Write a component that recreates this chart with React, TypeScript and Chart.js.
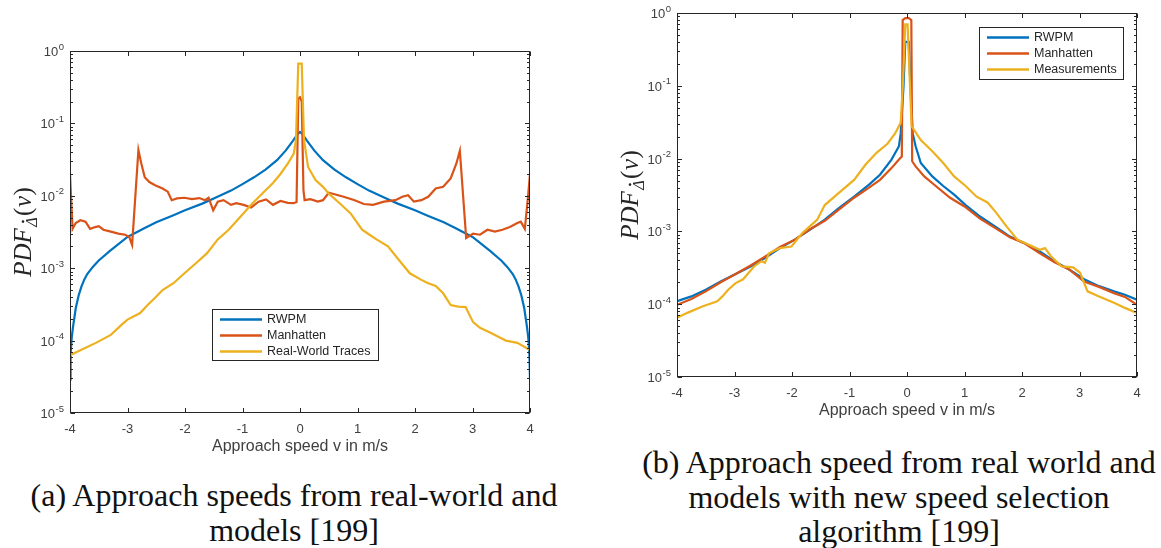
import React, { useEffect, useRef } from 'react';
import { Chart, registerables } from 'chart.js';
Chart.register(...registerables);

// ---------- shared ----------
const xTicks = [-4, -3, -2, -1, 0, 1, 2, 3, 4];
const yDecades = [0, -1, -2, -3, -4, -5];
const seriesColors = ['#0072BD', '#D95319', '#EDB120'];
const namesA = ['RWPM', 'Manhatten', 'Real-World Traces'];
const namesB = ['RWPM', 'Manhatten', 'Measurements'];
const xTitle = 'Approach speed v in m/s';
const captionA = ['(a) Approach speeds from real-world and', 'models [199]'];
const captionB = ['(b) Approach speed from real world and', 'models with new speed selection', 'algorithm [199]'];

// ---------- panel (a) ----------
const aRwpmX = [-4, -3.99, -3.97, -3.95, -3.9, -3.85, -3.8, -3.75, -3.7, -3.6, -3.5, -3.3, -3, -2.7, -2.5, -2.2, -2, -1.7, -1.5, -1.2, -1, -0.8, -0.6, -0.4, -0.25, -0.12, -0.05, 0, 0.05, 0.12, 0.25, 0.4, 0.6, 0.8, 1, 1.2, 1.5, 1.7, 2, 2.2, 2.5, 2.7, 3, 3.3, 3.5, 3.6, 3.7, 3.75, 3.8, 3.85, 3.9, 3.95, 3.97, 3.99, 4];
const aRwpmY = [2.9e-5, 6.5e-5, 1.1e-4, 1.5e-4, 2.8e-4, 4.2e-4, 5.6e-4, 7.0e-4, 8.3e-4, 1.05e-3, 1.28e-3, 1.75e-3, 2.7e-3, 3.6e-3, 4.3e-3, 5.4e-3, 6.3e-3, 7.8e-3, 9.2e-3, 1.18e-2, 1.45e-2, 1.8e-2, 2.3e-2, 3.1e-2, 4.2e-2, 5.8e-2, 7.0e-2, 7.6e-2, 7.0e-2, 5.8e-2, 4.2e-2, 3.1e-2, 2.3e-2, 1.8e-2, 1.45e-2, 1.18e-2, 9.2e-3, 7.8e-3, 6.3e-3, 5.4e-3, 4.3e-3, 3.6e-3, 2.7e-3, 1.75e-3, 1.28e-3, 1.05e-3, 8.3e-4, 7.0e-4, 5.6e-4, 4.2e-4, 2.8e-4, 1.5e-4, 1.1e-4, 6.5e-5, 2.9e-5];

const aManX = [-4, -3.955, -3.9, -3.82, -3.73, -3.65, -3.56, -3.5, -3.42, -3.29, -3.16, -3.04, -2.97, -2.92, -2.81, -2.76, -2.7, -2.62, -2.52, -2.39, -2.3, -2.23, -2.14, -2.01, -1.88, -1.75, -1.65, -1.59, -1.51, -1.43, -1.33, -1.2, -1.11, -0.98, -0.85, -0.72, -0.59, -0.47, -0.34, -0.21, -0.11, -0.06, -0.03, 0, 0.03, 0.06, 0.08, 0.18, 0.31, 0.4, 0.5, 0.6, 0.76, 0.95, 1.11, 1.27, 1.46, 1.66, 1.78, 1.88, 1.98, 2.11, 2.23, 2.36, 2.49, 2.62, 2.72, 2.78, 2.89, 3.01, 3.13, 3.26, 3.39, 3.52, 3.65, 3.78, 3.84, 3.91, 3.96, 4];
const aManY = [2.0e-2, 3.5e-3, 4.2e-3, 4.6e-3, 4.4e-3, 3.5e-3, 3.7e-3, 3.8e-3, 3.4e-3, 3.2e-3, 3.0e-3, 2.9e-3, 2.7e-3, 2.1e-3, 4.3e-2, 2.8e-2, 1.8e-2, 1.55e-2, 1.4e-2, 1.26e-2, 1.14e-2, 8.7e-3, 9.2e-3, 9.4e-3, 9.0e-3, 9.3e-3, 8.7e-3, 9.4e-3, 6.3e-3, 8.3e-3, 8.7e-3, 7.5e-3, 7.9e-3, 7.5e-3, 6.9e-3, 8.3e-3, 8.9e-3, 7.5e-3, 8.5e-3, 8.0e-3, 7.9e-3, 8.2e-3, 0.22, 0.23, 0.2, 0.012, 8.7e-3, 9.0e-3, 8.3e-3, 8.7e-3, 1.1e-2, 1.05e-2, 9.7e-3, 8.7e-3, 7.7e-3, 7.5e-3, 8.3e-3, 8.7e-3, 9.7e-3, 1.02e-2, 8.3e-3, 8.7e-3, 9.7e-3, 1.26e-2, 1.33e-2, 1.74e-2, 2.8e-2, 4.2e-2, 2.6e-3, 3.0e-3, 2.9e-3, 3.4e-3, 3.2e-3, 3.4e-3, 3.7e-3, 4.2e-3, 4.4e-3, 3.5e-3, 8.7e-3, 2.0e-2];

const aRealX = [-4, -3.81, -3.55, -3.29, -3.1, -3, -2.78, -2.65, -2.52, -2.39, -2.2, -2.01, -1.81, -1.62, -1.43, -1.24, -1.04, -0.85, -0.66, -0.47, -0.34, -0.21, -0.11, -0.07, -0.03, 0.03, 0.07, 0.14, 0.27, 0.4, 0.5, 0.69, 0.88, 1.08, 1.21, 1.33, 1.53, 1.72, 1.91, 2.11, 2.23, 2.36, 2.49, 2.62, 2.75, 2.88, 3.01, 3.13, 3.33, 3.58, 3.78, 4];
const aRealY = [6.3e-5, 7.4e-5, 9.3e-5, 1.2e-4, 1.66e-4, 1.95e-4, 2.4e-4, 3.1e-4, 3.9e-4, 5.0e-4, 6.2e-4, 8.5e-4, 1.17e-3, 1.6e-3, 2.5e-3, 3.4e-3, 5.1e-3, 7.5e-3, 1.07e-2, 1.5e-2, 2.0e-2, 2.8e-2, 3.8e-2, 5.9e-2, 0.67, 0.67, 5.9e-2, 2.5e-2, 1.65e-2, 1.33e-2, 1.07e-2, 7.9e-3, 5.7e-3, 3.4e-3, 2.9e-3, 2.5e-3, 2.0e-3, 1.3e-3, 8.5e-4, 6.9e-4, 6.2e-4, 5.7e-4, 4.5e-4, 3.1e-4, 2.95e-4, 2.9e-4, 1.8e-4, 1.5e-4, 1.26e-4, 1.0e-4, 9.3e-5, 7.4e-5];

// ---------- panel (b) ----------
const bRwpmX = [-4, -3.75, -3.5, -3.24, -2.98, -2.72, -2.47, -2.21, -1.95, -1.69, -1.43, -1.18, -0.92, -0.66, -0.47, -0.27, -0.14, -0.11, -0.06, -0.03, 0, 0.03, 0.06, 0.1, 0.15, 0.24, 0.44, 0.63, 0.82, 1.02, 1.27, 1.53, 1.79, 2.05, 2.31, 2.56, 2.82, 3.08, 3.34, 3.6, 3.79, 4];
const bRwpmY = [1.1e-4, 1.28e-4, 1.58e-4, 2.05e-4, 2.6e-4, 3.3e-4, 4.3e-4, 5.9e-4, 7.7e-4, 1.05e-3, 1.45e-3, 2.1e-3, 3.0e-3, 4.4e-3, 6.0e-3, 9.7e-3, 1.48e-2, 2.2e-2, 0.1, 0.4, 0.4, 0.4, 0.1, 2.2e-2, 1.48e-2, 8.7e-3, 5.7e-3, 4.2e-3, 3.2e-3, 2.3e-3, 1.6e-3, 1.17e-3, 8.5e-4, 6.9e-4, 5.3e-4, 3.9e-4, 3.0e-4, 2.2e-4, 1.77e-4, 1.5e-4, 1.35e-4, 1.15e-4];

const bManX = [-4, -3.75, -3.5, -3.24, -2.98, -2.72, -2.47, -2.21, -1.95, -1.69, -1.43, -1.18, -0.92, -0.66, -0.47, -0.27, -0.14, -0.09, -0.075, -0.03, 0.03, 0.075, 0.09, 0.15, 0.3, 0.5, 0.75, 1.0, 1.27, 1.53, 1.79, 2.05, 2.31, 2.56, 2.82, 3.08, 3.34, 3.6, 3.79, 4];
const bManY = [9.8e-5, 1.18e-4, 1.5e-4, 2.0e-4, 2.6e-4, 3.4e-4, 4.5e-4, 6.1e-4, 7.7e-4, 1.07e-3, 1.4e-3, 2.0e-3, 2.9e-3, 4.0e-3, 5.1e-3, 7.4e-3, 9.7e-3, 1.07e-2, 0.8, 0.85, 0.85, 0.8, 9.2e-3, 7.8e-3, 5.7e-3, 4.2e-3, 2.9e-3, 2.2e-3, 1.5e-3, 1.12e-3, 8.3e-4, 6.8e-4, 5.0e-4, 3.8e-4, 3.0e-4, 2.05e-4, 1.73e-4, 1.42e-4, 1.26e-4, 9.8e-5];

const bMeasX = [-4, -3.82, -3.56, -3.3, -3.21, -3.11, -2.98, -2.85, -2.66, -2.53, -2.47, -2.4, -2.21, -2.01, -1.82, -1.69, -1.56, -1.43, -1.18, -0.92, -0.72, -0.53, -0.34, -0.21, -0.11, -0.07, -0.03, 0.01, 0.05, 0.08, 0.24, 0.44, 0.63, 0.82, 1.02, 1.21, 1.4, 1.53, 1.73, 1.92, 2.11, 2.31, 2.4, 2.5, 2.69, 2.89, 3.01, 3.14, 3.34, 3.6, 3.79, 4];
const bMeasY = [6.5e-5, 7.6e-5, 9.3e-5, 1.1e-4, 1.28e-4, 1.58e-4, 1.95e-4, 2.2e-4, 3.3e-4, 3.9e-4, 3.7e-4, 5.0e-4, 5.9e-4, 6.2e-4, 9.5e-4, 1.17e-3, 1.45e-3, 2.3e-3, 3.4e-3, 5.1e-3, 8.3e-3, 1.2e-2, 1.6e-2, 2.2e-2, 3.1e-2, 0.11, 0.7, 0.7, 0.11, 2.8e-2, 1.8e-2, 1.26e-2, 8.7e-3, 5.7e-3, 4.2e-3, 3.0e-3, 2.5e-3, 1.9e-3, 1.17e-3, 7.7e-4, 6.6e-4, 5.6e-4, 5.9e-4, 4.6e-4, 3.3e-4, 3.2e-4, 2.7e-4, 1.5e-4, 1.28e-4, 1.05e-4, 8.9e-5, 7.6e-5];

const SANS = '"Liberation Sans", Arial, Helvetica, sans-serif';
const SERIF = '"Liberation Serif", "Times New Roman", serif';
const AXIS_COLOR = '#262626';
const TICK_TEXT = '#404040';

function zip(xs: number[], ys: number[]) {
  return xs.map((x, i) => ({ x, y: ys[i] }));
}

function drawYTitle(ctx: CanvasRenderingContext2D, cx: number, cy: number) {
  ctx.save();
  ctx.translate(cx, cy);
  ctx.rotate(-Math.PI / 2);
  const bigI = `italic 25px ${SERIF}`;
  const bigU = `25px ${SERIF}`;
  const sub = `italic 16px ${SERIF}`;
  const parts = [
    { t: 'PDF', f: bigI, dy: 0, sp: 1.5 },
    { t: 'Δ', f: sub, dy: 6, sp: 1.5, dot: true },
    { t: '(', f: bigU, dy: 0, sp: 0.5 },
    { t: 'v', f: bigI, dy: 0, sp: 0.5 },
    { t: ')', f: bigU, dy: 0, sp: 0 },
  ];
  let total = 0;
  const widths = parts.map((p) => {
    ctx.font = p.f;
    const w = ctx.measureText(p.t).width;
    total += w + p.sp;
    return w;
  });
  let x = -total / 2;
  ctx.fillStyle = AXIS_COLOR;
  ctx.textBaseline = 'alphabetic';
  ctx.textAlign = 'left';
  parts.forEach((p, i) => {
    ctx.font = p.f;
    ctx.fillText(p.t, x, 8 + p.dy);
    if (p.dot) {
      ctx.beginPath();
      ctx.arc(x + widths[i] / 2 + 0.5, 8 + p.dy - 14, 1.3, 0, Math.PI * 2);
      ctx.fill();
    }
    x += widths[i] + p.sp;
  });
  ctx.restore();
}

type FrameCfg = { legend: [number, number, number, number] };

function makeFramePlugin(cfg: FrameCfg) {
  return {
    id: 'matlabFrame',
    afterDraw(chart: any) {
      const ctx: CanvasRenderingContext2D = chart.ctx;
      const { left, right, top, bottom } = chart.chartArea;
      const xs = chart.scales.x;
      const ys = chart.scales.y;
      const L = Math.round(left) + 0.5;
      const R = Math.round(right) - 0.5;
      const T = Math.round(top) + 0.5;
      const B = Math.round(bottom) - 0.5;
      ctx.save();
      ctx.strokeStyle = AXIS_COLOR;
      ctx.lineWidth = 1;
      ctx.strokeRect(L, T, R - L, B - T);
      ctx.beginPath();
      xTicks.forEach((v) => {
        const px = Math.round(xs.getPixelForValue(v)) + 0.5;
        ctx.moveTo(px, B); ctx.lineTo(px, B - 4.5);
        ctx.moveTo(px, T); ctx.lineTo(px, T + 4.5);
      });
      yDecades.forEach((e) => {
        const py = Math.round(ys.getPixelForValue(Math.pow(10, e))) + 0.5;
        ctx.moveTo(L, py); ctx.lineTo(L + 4.5, py);
        ctx.moveTo(R, py); ctx.lineTo(R - 4.5, py);
        if (e > -5) {
          for (let m = 2; m <= 9; m++) {
            const pm = Math.round(ys.getPixelForValue(m * Math.pow(10, e - 1))) + 0.5;
            ctx.moveTo(L, pm); ctx.lineTo(L + 2.5, pm);
            ctx.moveTo(R, pm); ctx.lineTo(R - 2.5, pm);
          }
        }
      });
      ctx.stroke();

      // x tick labels
      ctx.fillStyle = TICK_TEXT;
      ctx.font = `13px ${SANS}`;
      ctx.textAlign = 'center';
      ctx.textBaseline = 'middle';
      xTicks.forEach((v) => {
        ctx.fillText(String(v), xs.getPixelForValue(v), bottom + 16);
      });
      // y tick labels 10^e
      yDecades.forEach((e) => {
        const py = ys.getPixelForValue(Math.pow(10, e));
        const supFont = `9.5px ${SANS}`;
        const baseFont = `13px ${SANS}`;
        ctx.font = supFont;
        const ew = ctx.measureText(String(e)).width;
        ctx.font = baseFont;
        const bw = ctx.measureText('10').width;
        const xEnd = left - 6;
        ctx.textAlign = 'left';
        ctx.textBaseline = 'middle';
        ctx.font = baseFont;
        ctx.fillText('10', xEnd - ew - bw - 0.5, py + 1.5);
        ctx.font = supFont;
        ctx.fillText(String(e), xEnd - ew, py - 4);
      });
      // x title
      ctx.fillStyle = TICK_TEXT;
      ctx.font = `16px ${SANS}`;
      ctx.textAlign = 'center';
      ctx.textBaseline = 'middle';
      ctx.fillText(xTitle, (left + right) / 2, bottom + 34);
      // y title
      drawYTitle(ctx, left - 47, (top + bottom) / 2);

      // legend
      const [lx, ly, lw, lh] = cfg.legend;
      ctx.fillStyle = '#ffffff';
      ctx.fillRect(lx, ly, lw, lh);
      ctx.strokeStyle = AXIS_COLOR;
      ctx.lineWidth = 1;
      ctx.strokeRect(lx + 0.5, ly + 0.5, lw, lh);
      const order = [0, 1, 2];
      order.forEach((i, row) => {
        const ds = chart.data.datasets[i];
        const yy = ly + 10.5 + row * 16;
        ctx.strokeStyle = ds.borderColor;
        ctx.lineWidth = 2.5;
        ctx.beginPath();
        ctx.moveTo(lx + 8, yy);
        ctx.lineTo(lx + 50, yy);
        ctx.stroke();
        ctx.fillStyle = '#262626';
        ctx.font = `12.5px ${SANS}`;
        ctx.textAlign = 'left';
        ctx.textBaseline = 'middle';
        ctx.fillText(ds.label, lx + 55, yy + 0.5);
      });
      ctx.restore();
    },
  };
}

function buildChart(
  canvas: HTMLCanvasElement,
  names: string[],
  series: { x: number[]; y: number[] }[],
  padding: { left: number; right: number; top: number; bottom: number },
  legend: [number, number, number, number]
) {
  return new Chart(canvas, {
    type: 'line',
    data: {
      datasets: series.map((s, i) => ({
        label: names[i],
        data: zip(s.x, s.y),
        borderColor: seriesColors[i],
        backgroundColor: seriesColors[i],
        borderWidth: 2.2,
        pointRadius: 0,
        tension: 0,
        fill: false,
        order: 3 - i,
      })),
    },
    options: {
      responsive: false,
      animation: false,
      devicePixelRatio: 1,
      layout: { padding },
      plugins: { legend: { display: false }, tooltip: { enabled: false }, title: { display: false } },
      events: [],
      scales: {
        x: { type: 'linear', min: -4, max: 4, display: false },
        y: { type: 'logarithmic', min: 1e-5, max: 1, display: false },
      },
    },
    plugins: [makeFramePlugin({ legend })],
  } as any);
}

export default function App() {
  const refA = useRef<HTMLCanvasElement>(null);
  const refB = useRef<HTMLCanvasElement>(null);
  useEffect(() => {
    const a = buildChart(
      refA.current!,
      namesA,
      [
        { x: aRwpmX, y: aRwpmY },
        { x: aManX, y: aManY },
        { x: aRealX, y: aRealY },
      ],
      { left: 70, right: 50, top: 51, bottom: 57 },
      [212, 309, 166, 51]
    );
    const b = buildChart(
      refB.current!,
      namesB,
      [
        { x: bRwpmX, y: bRwpmY },
        { x: bManX, y: bManY },
        { x: bMeasX, y: bMeasY },
      ],
      { left: 97, right: 24, top: 13, bottom: 63 },
      [399, 27, 144, 52]
    );
    return () => {
      a.destroy();
      b.destroy();
    };
  }, []);

  const capStyle: React.CSSProperties = {
    position: 'absolute',
    textAlign: 'center',
    fontFamily: SERIF,
    fontSize: 32,
    lineHeight: '34.5px',
    color: '#111',
    whiteSpace: 'nowrap',
  };

  return (
    <div style={{ position: 'absolute', left: 0, top: 0, width: 1161, height: 548, background: '#fff', overflow: 'hidden' }}>
      <canvas ref={refA} width={580} height={470} style={{ position: 'absolute', left: 0, top: 0 }} />
      <canvas ref={refB} width={581} height={440} style={{ position: 'absolute', left: 580, top: 0 }} />
      <div style={{ ...capStyle, left: 0, width: 588, top: 478 }}>
        {captionA.map((l, i) => (
          <div key={i}>{l}</div>
        ))}
      </div>
      <div style={{ ...capStyle, left: 620, width: 558, top: 445 }}>
        {captionB.map((l, i) => (
          <div key={i}>{l}</div>
        ))}
      </div>
    </div>
  );
}
